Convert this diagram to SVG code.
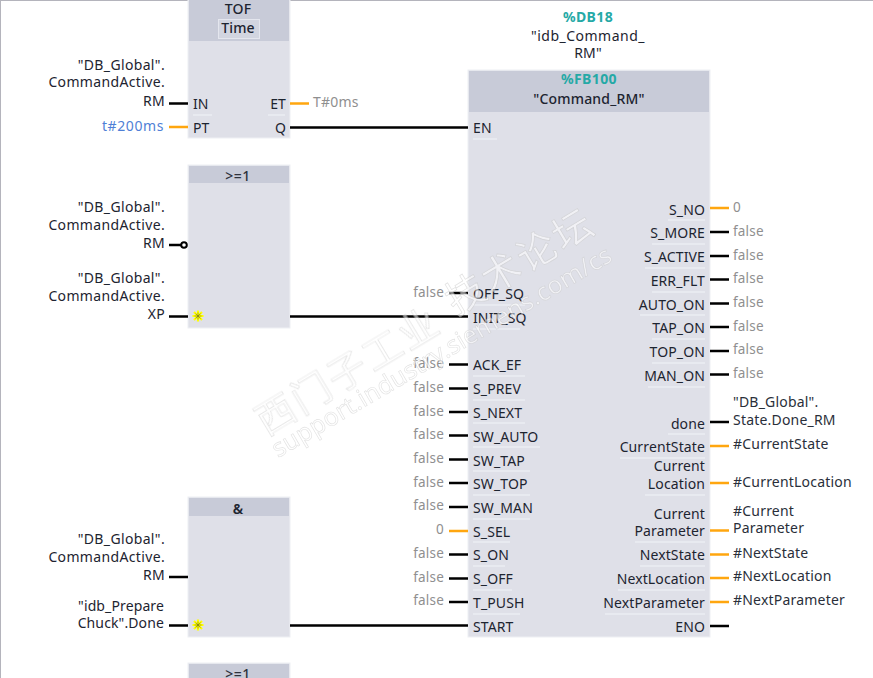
<svg xmlns="http://www.w3.org/2000/svg" width="873" height="678" viewBox="0 0 873 678">
<defs>
<style>
text{font-family:"Noto Sans","Liberation Sans","Noto Sans CJK SC",sans-serif;font-size:14px;fill:#1d2430;letter-spacing:.12px}
.ar{text-anchor:end}
.m{text-anchor:middle}
.val{fill:#8f8f8f;text-anchor:end;font-size:13.500px;letter-spacing:.2px}
.op{fill:#2e323c;letter-spacing:.5px;font-weight:500}
.opr{letter-spacing:.2px;fill:#2a2f3a}
.lab{letter-spacing:.35px;text-anchor:end}
.teal{fill:#25a9a6;font-weight:700;text-anchor:middle;letter-spacing:.4px}
.blk{fill:#dfe0e8;stroke:#eef0f4;stroke-width:1}
.hdr{fill:#c8cbd8}
.b{stroke:#000;stroke-width:2.400;fill:none}
.o{stroke:#ffa60f;stroke-width:2.400;fill:none}
.sep{stroke:#f2f3f7;stroke-width:1.200}
.wm{font-size:39px;fill:#fff;stroke:#c9c9c9;stroke-width:.7;letter-spacing:2.500px}
.wm2{font-size:25px;fill:#fff;stroke:#c9c9c9;stroke-width:.6;letter-spacing:0}
</style>
<g id="star"><path d="M0-5.500V5.500M-5.500 0H5.500M-4-4L4 4M-4 4L4-4" stroke="#ffff00" stroke-width="2.200"/><path d="M0-3.500V3.500M-3.500 0H3.500M-2.500-2.500L2.500 2.500M-2.500 2.500L2.500-2.500" stroke="#6f6f20" stroke-width=".6"/></g>
</defs>
<rect width="873" height="678" fill="#fff"/>
<path d="M0 .5H873M.5 0V678" stroke="#b4b4bc" stroke-width="1" fill="none"/>

<g id="tof">
<rect class="blk" x="188" y="-2" width="102" height="140"/><rect class="hdr" x="189" y="0" width="100" height="41"/>
<rect x="218.500" y="19.500" width="41" height="19" fill="#d2d5e0" stroke="#e4e6ee"/>
<text class="m" x="238" y="14" font-weight="500">TOF</text><text class="m" x="238" y="33" font-weight="500">Time</text>
<text x="193" y="109">IN</text><text x="193" y="133">PT</text>
<text class="ar" x="286" y="109">ET</text><text class="ar" x="286" y="133">Q</text>
<path class="sep" d="M193 115H212M268 115H285"/>
</g>
<g id="or1">
<rect class="blk" x="188" y="165" width="102" height="163"/><rect class="hdr" x="189" y="166" width="100" height="17"/>
<text class="m op" x="238" y="181">&gt;=1</text>
<use href="#star" x="198" y="316"/>
</g>
<g id="and1">
<rect class="blk" x="188" y="497" width="102" height="140"/><rect class="hdr" x="189" y="498" width="100" height="18"/>
<text class="m" x="238" y="514" font-weight="600">&amp;</text>
<use href="#star" x="198" y="625"/>
</g>
<g id="or2">
<rect class="blk" x="188" y="663" width="102" height="20"/><rect class="hdr" x="189" y="664" width="100" height="18"/>
<text class="m op" x="238" y="679">&gt;=1</text>
</g>
<g id="fb100">
<rect class="blk" x="468" y="70" width="242" height="567"/><rect class="hdr" x="469" y="71" width="240" height="41"/>
<text class="teal" x="589" y="84">%FB100</text>
<text class="m" x="589" y="104" font-weight="500" style="letter-spacing:.2px">"Command_RM"</text>
<g>
<text x="473" y="133">EN</text><text x="473" y="299">OFF_SQ</text><text x="473" y="323">INIT_SQ</text>
<text x="473" y="370">ACK_EF</text><text x="473" y="394">S_PREV</text><text x="473" y="418">S_NEXT</text><text x="473" y="442">SW_AUTO</text><text x="473" y="466">SW_TAP</text><text x="473" y="489">SW_TOP</text><text x="473" y="513">SW_MAN</text><text x="473" y="537">S_SEL</text><text x="473" y="560">S_ON</text><text x="473" y="584">S_OFF</text><text x="473" y="608">T_PUSH</text><text x="473" y="632">START</text>
</g>
<g>
<text class="ar" x="705" y="215">S_NO</text><text class="ar" x="705" y="238">S_MORE</text><text class="ar" x="705" y="262">S_ACTIVE</text><text class="ar" x="705" y="286">ERR_FLT</text><text class="ar" x="705" y="310">AUTO_ON</text><text class="ar" x="705" y="333">TAP_ON</text><text class="ar" x="705" y="357">TOP_ON</text><text class="ar" x="705" y="381">MAN_ON</text>
<text class="ar" x="705" y="429">done</text><text class="ar" x="705" y="452">CurrentState</text><text class="ar" x="705" y="471">Current</text><text class="ar" x="705" y="489">Location</text><text class="ar" x="705" y="519">Current</text><text class="ar" x="705" y="536">Parameter</text><text class="ar" x="705" y="560">NextState</text><text class="ar" x="705" y="584">NextLocation</text><text class="ar" x="705" y="608">NextParameter</text><text class="ar" x="705" y="632">ENO</text>
</g>
<path class="sep" d="M473 139H497M473 305H525M473 329H520M473 376H525M473 400H525M473 423H525M473 447H540M473 471H530M473 495H530M473 519H530M473 542H510M473 566H505M473 590H512M473 614H520M668 220H705M652 244H705M645 268H705M652 292H705M640 315H705M652 339H705M652 363H705M648 387H705M668 434H705M620 458H705M645 495H705M635 542H705M640 566H705M618 590H705M605 614H705"/>
</g>

<g id="connectors">
<path class="b" d="M169 103.500H188M290 127.500H468M169 245H181M169 316.500H188M290 316.500H468M169 577H188M169 625.500H188M290 625.500H468M449 293H468M449 364.500H468M449 388.500H468M449 412H468M449 435.500H468M449 459.500H468M449 483H468M449 507H468M449 554.500H468M449 578.500H468M449 602H468"/>
<circle cx="184" cy="245" r="2.800" fill="#fff" stroke="#000" stroke-width="2"/>
<path class="b" d="M710 232H729M710 256H729M710 279.500H729M710 303.500H729M710 327H729M710 351H729M710 374.500H729M710 422H729M710 626H729"/>
<path class="o" d="M169 127H188M290 103.500H309M449 531H468M710 208H729M710 446H729M710 483H729M710 530.500H729M710 554.500H729M710 578H729M710 602H729"/>
</g>

<g id="labels">
<text class="lab" x="165" y="70">"DB_Global".</text><text class="lab" x="165" y="87">CommandActive.</text><text class="lab" x="165" y="106">RM</text>
<text class="ar" x="164" y="131" style="fill:#4f7fd6;letter-spacing:.6px">t#200ms</text>
<text class="lab" x="165" y="212">"DB_Global".</text><text class="lab" x="165" y="230">CommandActive.</text><text class="lab" x="165" y="248">RM</text>
<text class="lab" x="165" y="283">"DB_Global".</text><text class="lab" x="165" y="301">CommandActive.</text><text class="lab" x="165" y="319">XP</text>
<text class="lab" x="165" y="544">"DB_Global".</text><text class="lab" x="165" y="562">CommandActive.</text><text class="lab" x="165" y="580">RM</text>
<text class="ar" x="164" y="611">"idb_Prepare</text><text class="ar" x="164" y="628">Chuck".Done</text>
<text x="313" y="107" style="fill:#8f8f8f;letter-spacing:.2px">T#0ms</text>
<text class="teal" x="588" y="22">%DB18</text>
<text class="m" x="588" y="41" style="letter-spacing:.5px">"idb_Command_</text><text class="m" x="588" y="58">RM"</text>
<text class="val" x="444" y="297">false</text><text class="val" x="444" y="368">false</text><text class="val" x="444" y="392">false</text><text class="val" x="444" y="416">false</text><text class="val" x="444" y="439">false</text><text class="val" x="444" y="463">false</text><text class="val" x="444" y="487">false</text><text class="val" x="444" y="510">false</text><text class="val" x="444" y="534">0</text><text class="val" x="444" y="558">false</text><text class="val" x="444" y="582">false</text><text class="val" x="444" y="605">false</text>
<g>
<text class="val" style="text-anchor:start" x="733" y="212">0</text><text class="val" style="text-anchor:start" x="733" y="236">false</text><text class="val" style="text-anchor:start" x="733" y="260">false</text><text class="val" style="text-anchor:start" x="733" y="283">false</text><text class="val" style="text-anchor:start" x="733" y="307">false</text><text class="val" style="text-anchor:start" x="733" y="331">false</text><text class="val" style="text-anchor:start" x="733" y="354">false</text><text class="val" style="text-anchor:start" x="733" y="378">false</text>
</g>
<text class="opr" x="733" y="407">"DB_Global".</text><text class="opr" x="733" y="425">State.Done_RM</text>
<text class="opr" x="733" y="449">#CurrentState</text><text class="opr" x="733" y="487">#CurrentLocation</text>
<text class="opr" x="733" y="516">#Current</text><text class="opr" x="733" y="533">Parameter</text>
<text class="opr" x="733" y="558">#NextState</text><text class="opr" x="733" y="581">#NextLocation</text><text class="opr" x="733" y="605">#NextParameter</text>
</g>

<g id="watermark" opacity=".55">
<text class="wm" transform="translate(266 436) rotate(-31)">西门子工业</text>
<text class="wm" transform="translate(456 316) rotate(-31)">技术论坛</text>
<text class="wm2" transform="translate(278 458) rotate(-30.500)">support.industry.siemens.com/cs</text>
</g>
</svg>
